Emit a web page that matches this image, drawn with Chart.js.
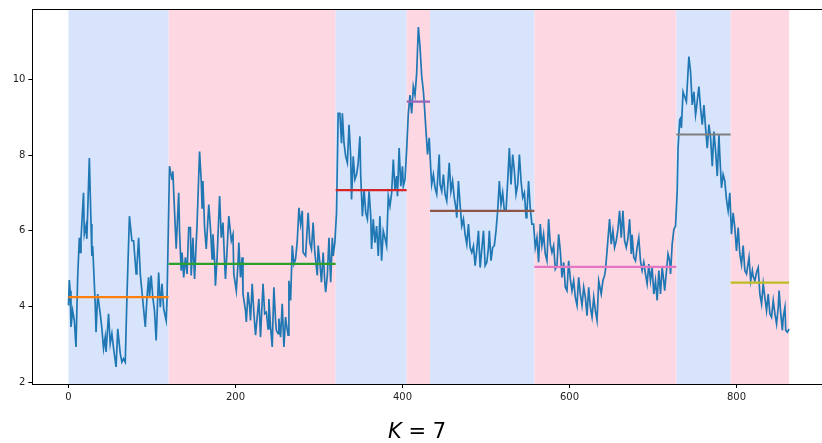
<!DOCTYPE html>
<html>
<head>
<meta charset="utf-8">
<script src="https://cdn.jsdelivr.net/npm/chart.js@4.4.1/dist/chart.umd.min.js"></script>
<style>
  html, body { margin:0; padding:0; background:#fff; overflow:hidden; width:822px; height:443px; }
  #wrap { position:absolute; left:0; top:0; width:828px; height:443px; }
  #title { position:absolute; left:0; width:834px; top:419px; text-align:center; font-family:"DejaVu Sans"; font-size:21px; color:#000; line-height:24px; }
</style>
</head>
<body>
<div id="wrap"><canvas id="c" width="828" height="443"></canvas></div>
<div id="title"><i>K</i> = 7</div>
<script>
// Series values: [x, value]
const seriesPoints = [
[0,4.03],[1,4.70],[2,4.42],[3,3.46],[5,3.89],[7,3.63],[9,2.93],[11,4.77],[13,5.82],[14,5.43],[15,5.78],[18,7.01],[19,5.91],[21,6.13],[22,5.79],[25,7.93],[27,6.18],[28,5.34],[29,5.60],[32,4.07],[33,3.32],[35,4.33],[38,3.81],[40,3.42],[42,2.89],[44,3.19],[45,2.80],[48,3.81],[50,3.02],[52,3.28],[54,2.89],[57,2.40],[59,3.41],[62,2.76],[64,2.53],[66,2.62],[68,2.53],[70,4.24],[73,6.39],[76,5.74],[78,5.74],[81,4.86],[82,5.08],[84,5.82],[86,4.86],[89,4.16],[92,3.46],[94,4.24],[96,4.77],[97,4.24],[99,4.82],[101,4.24],[103,3.89],[105,3.10],[108,4.90],[110,3.98],[112,4.60],[114,3.94],[117,3.63],[118,4.16],
[121,7.71],[122,7.58],[124,7.37],[125,7.58],[127,6.53],[129,5.53],[132,7.01],[133,6.00],[135,4.95],[136,5.43],[138,4.77],[140,5.30],[142,4.86],[144,6.09],[146,6.09],[147,4.82],[149,5.82],[151,4.73],[154,6.18],[157,8.10],[159,7.32],[160,6.61],[161,7.32],[163,6.09],[165,5.52],[168,6.70],[170,6.09],[172,5.26],[173,5.91],[175,5.21],[176,4.55],[178,5.30],[181,6.92],[183,5.82],[185,6.22],[187,5.17],[188,4.73],[190,5.52],[192,6.39],[195,5.74],[197,5.91],[198,4.86],[201,4.42],[203,5.12],[204,5.69],[206,4.77],[208,5.30],[209,4.33],[212,3.89],[213,3.59],[215,4.38],[217,3.98],[218,3.63],[220,4.60],[222,3.85],[224,3.24],[226,3.72],[228,4.20],[230,3.19],[233,4.60],[235,3.81],[237,3.85],[239,3.41],[240,4.20],[242,3.46],[244,2.93],[246,4.51],[248,3.63],[249,3.37],[251,3.28],[252,3.68],[254,3.19],[256,4.07],[258,2.93],[260,3.72],[261,3.54],[263,3.24],[264,4.68],[266,4.16],[268,5.61],[270,5.12],[272,5.26],[274,5.74],[276,6.61],[278,6.18],[280,6.53],[281,5.43],[284,5.34],[287,6.48],[289,5.69],[291,5.52],[293,6.22],[295,5.43],[298,4.82],[299,5.61],[301,5.17],[303,4.64],[305,5.43],[307,4.64],[308,4.38],[310,4.82],[312,5.82],[314,4.64],[316,5.82],[317,5.34],[319,5.69],
[321,6.48],[323,9.11],[325,9.11],[327,8.32],[328,9.11],[330,8.32],[332,7.97],[334,7.80],[336,8.81],[338,7.97],[339,6.83],[341,7.97],[343,7.36],[345,7.49],[347,7.80],[349,8.50],[350,7.45],[352,6.39],[354,7.10],[356,6.48],[358,6.31],[360,7.05],[362,6.39],[363,5.52],[365,6.31],[367,5.69],[369,6.13],[371,5.34],[373,6.39],[375,5.21],[377,6.00],[379,5.82],[381,5.61],[383,6.92],[385,6.66],[387,7.00],[389,7.89],[391,7.10],[393,7.45],[394,6.92],[396,8.19],[398,7.18],[400,7.71],[401,7.18],[403,7.36],
[405,8.15],[407,9.11],[409,9.59],[411,9.11],[413,9.82],[415,9.59],[417,10.17],[419,11.39],[421,10.87],[423,10.10],[425,9.70],[426,9.40],[428,8.70],[430,8.02],[432,8.46],
[434,7.58],[435,7.23],[437,7.49],[439,7.14],[441,6.97],[444,8.02],[445,7.23],[447,7.05],[449,7.49],[451,6.97],[453,6.79],[456,7.80],[458,7.05],[460,7.32],[462,6.88],[464,6.61],[465,6.35],[467,7.32],[469,6.70],[471,6.13],[473,6.31],[475,5.91],[477,5.65],[479,6.18],[481,5.56],[483,5.43],[485,5.60],[487,5.08],[489,5.50],[491,6.00],[493,5.03],[495,5.52],[497,6.00],[499,5.08],[501,5.17],[503,5.56],[504,6.00],[506,5.21],[508,5.56],[510,5.61],[512,6.00],[514,6.53],[516,7.32],[518,6.70],[520,7.01],[522,6.53],[524,6.53],[526,7.32],[528,8.19],[530,7.23],[532,8.02],[534,7.58],[536,6.97],[538,7.23],[540,8.02],[542,7.32],[544,6.88],[546,7.01],[548,6.35],[549,6.48],[551,7.32],[553,6.61],[555,6.18],[557,6.18],
[559,5.56],[561,5.82],[563,5.17],[565,6.18],[567,5.61],[569,5.91],[571,5.39],[573,5.21],[575,6.31],[577,5.65],[579,5.43],[581,5.61],[583,4.99],[585,5.08],[587,5.91],[589,5.47],[591,4.77],[593,5.17],[595,4.51],[597,4.42],[599,5.21],[601,4.73],[603,4.42],[605,4.68],[607,4.24],[609,4.03],[611,4.77],[613,4.33],[615,4.03],[617,4.51],[619,4.24],[621,3.76],[623,4.51],[625,3.98],[627,3.72],[629,4.24],[631,3.89],[633,3.63],[635,4.68],[638,4.33],[640,4.68],[642,4.82],[643,4.95],[645,5.47],[648,6.31],[650,5.65],[652,6.00],[654,5.56],[656,5.74],[658,6.04],[660,6.53],[662,5.82],[664,6.53],[666,5.74],[668,5.56],[670,5.80],[672,6.31],[674,5.39],[675,5.90],[677,5.30],[679,5.21],[681,5.56],[683,5.82],[685,5.21],[687,4.95],[689,5.17],[691,4.86],[693,4.60],[695,5.12],[697,4.68],[699,5.03],[701,4.33],[703,4.68],[705,4.16],[707,4.95],[709,4.33],[711,5.03],[712,4.86],[714,4.42],[716,4.90],[718,5.39],[720,5.21],[721,4.86],[723,5.65],[725,6.04],[727,6.13],
[729,7.05],[730,8.19],[732,8.94],[733,8.98],[734,8.72],[736,9.68],[738,9.55],[740,9.42],[743,10.61],[745,10.21],[747,9.33],[749,9.68],[751,9.07],[752,9.24],[755,9.82],[757,9.24],[759,8.81],[761,9.33],[763,8.72],[765,8.19],[767,8.81],[769,8.46],[771,7.71],[773,8.63],[775,8.11],[777,7.45],[779,8.54],[780,8.02],[782,7.14],[784,7.49],[786,7.32],[788,6.83],[790,6.53],[792,7.01],
[794,5.91],[796,6.48],[798,6.09],[800,5.47],[802,6.09],[804,5.39],[806,5.12],[808,5.61],[810,4.95],[812,4.86],[815,5.30],[817,4.68],[819,4.95],[820,4.80],[822,4.68],[824,4.90],[826,5.03],[828,4.33],[830,4.07],[832,4.60],[834,4.24],[836,3.89],[838,4.33],[840,3.81],[842,3.72],[844,4.16],[846,3.81],[848,3.54],[850,3.98],[851,4.42],[853,3.81],[855,3.37],[856,3.72],[858,3.98],[859,3.37],[861,3.32],[863,3.41]
];

// Segments (change points) and segment means
const segStarts = [0, 120, 320, 405, 433, 558, 728, 793];
const segEnds   = [120, 320, 405, 433, 558, 728, 793, 863];
const segMeans  = [4.25, 5.13, 7.08, 9.42, 6.53, 5.05, 8.55, 4.63];
const segColors = ['#ff7f0e','#2ca02c','#d62728','#9467bd','#8c564b','#e377c2','#7f7f7f','#bcbd22'];
const spanColors = ['rgb(216,228,251)','rgb(253,216,227)'];

// Tick labels
const xTicks = [0, 200, 400, 600, 800];
const yTicks = [2, 4, 6, 8, 10];

const datasets = [{
  data: seriesPoints.map(p => ({x: p[0], y: p[1]})),
  borderColor: '#1f77b4',
  borderWidth: 1.7,
  pointRadius: 0,
  tension: 0,
  order: 2
}];
segStarts.forEach((s, i) => {
  datasets.push({
    data: [{x: s, y: segMeans[i]}, {x: segEnds[i], y: segMeans[i]}],
    borderColor: segColors[i],
    borderWidth: 2.2,
    pointRadius: 0,
    order: 1
  });
});

const spanPlugin = {
  id: 'spans',
  beforeDatasetsDraw(chart) {
    const {ctx, chartArea, scales} = chart;
    ctx.save();
    segStarts.forEach((s, i) => {
      const x0 = scales.x.getPixelForValue(s);
      const x1 = scales.x.getPixelForValue(segEnds[i]);
      ctx.fillStyle = spanColors[i % 2];
      ctx.fillRect(x0, chartArea.top, x1 - x0, chartArea.bottom - chartArea.top);
    });
    ctx.restore();
  }
};
const framePlugin = {
  id: 'frame',
  afterDraw(chart) {
    const {ctx, chartArea} = chart;
    ctx.save();
    ctx.strokeStyle = '#000';
    ctx.lineWidth = 1;
    ctx.strokeRect(Math.round(chartArea.left) + 0.5, Math.round(chartArea.top) + 0.5,
      Math.round(chartArea.right - chartArea.left), Math.round(chartArea.bottom - chartArea.top));
    ctx.restore();
  }
};

new Chart(document.getElementById('c'), {
  type: 'line',
  data: { datasets },
  options: {
    responsive: false,
    animation: false,
    layout: { padding: { top: 6, right: 2, left: 0, bottom: 0 } },
    plugins: { legend: { display: false }, tooltip: { enabled: false } },
    scales: {
      x: {
        type: 'linear',
        min: -43.2, max: 907.2,
        afterFit: s => { s.height = 59; },
        afterBuildTicks: s => { s.ticks = xTicks.map(v => ({value: v})); },
        grid: { drawOnChartArea: false, drawTicks: true, tickLength: 4, color: '#000' },
        border: { display: false },
        ticks: { color: '#222', padding: 3, maxRotation: 0, font: { family: 'DejaVu Sans', size: 10 } }
      },
      y: {
        type: 'linear',
        min: 1.95, max: 11.87,
        afterFit: s => { s.width = 32.4; },
        afterBuildTicks: s => { s.ticks = yTicks.map(v => ({value: v})); },
        grid: { drawOnChartArea: false, drawTicks: true, tickLength: 4, color: '#000' },
        border: { display: false },
        ticks: { color: '#222', padding: 3, font: { family: 'DejaVu Sans', size: 10 } }
      }
    }
  },
  plugins: [spanPlugin, framePlugin]
});
</script>
</body>
</html>
